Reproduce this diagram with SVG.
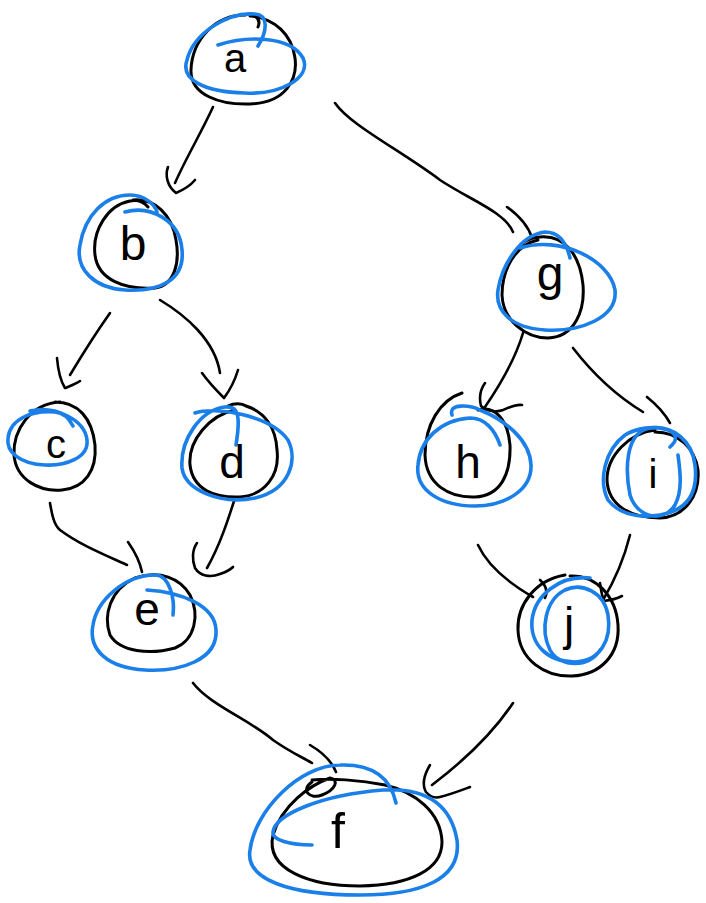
<svg xmlns="http://www.w3.org/2000/svg" width="706" height="903" viewBox="0 0 706 903">
  <style>
    .ink { fill: none; stroke: #000; stroke-width: 3; stroke-linecap: round; stroke-linejoin: round; }
    .hi { fill: none; stroke: #1a7fe8; stroke-width: 3.6; stroke-linecap: round; stroke-linejoin: round; }
    .lbl { font-family: "Liberation Sans", "DejaVu Sans", sans-serif; fill: #000; text-anchor: middle; font-weight: normal; }
    .edge { fill: none; stroke: #000; stroke-width: 2.6; stroke-linecap: round; stroke-linejoin: round; }
  </style>
  <rect width="706" height="903" fill="#fff"/>

  <!-- connectors -->
  <g id="connectors">
    <!-- a -> b -->
    <path class="edge" d="M213,107 C200,135 185,160 175,183"/>
    <path class="edge" d="M168,167 C165,175 167,186 176,193 C183,190 190,186 195,180"/>
    <!-- a -> g -->
    <path class="edge" d="M335,103 C350,125 400,150 440,180 C470,200 505,212 513,232"/>
    <path class="edge" d="M507,207 C518,215 528,225 532,238"/>
    <!-- b -> c -->
    <path class="edge" d="M110,313 C98,330 82,355 70,375"/>
    <path class="edge" d="M57,358 C58,370 60,380 65,388 C70,386 76,384 80,381"/>
    <!-- b -> d -->
    <path class="edge" d="M160,300 C185,315 215,340 220,373"/>
    <path class="edge" d="M202,373 C210,384 218,392 224,398 C230,390 235,380 238,370"/>
    <!-- g -> h -->
    <path class="edge" d="M523,333 C515,360 500,385 485,407"/>
    <path class="edge" d="M485,383 C480,390 479,398 481,406 C488,412 498,412 503,410 C510,407 516,404 522,405"/>
    <!-- g -> i -->
    <path class="edge" d="M573,348 C590,370 615,395 643,412"/>
    <path class="edge" d="M647,397 C657,405 665,414 670,423"/>
    <!-- c -> e -->
    <path class="edge" d="M50,503 C52,515 54,525 60,530 C80,545 105,555 127,565"/>
    <path class="edge" d="M128,542 C135,552 140,562 142,572"/>
    <!-- d -> e -->
    <path class="edge" d="M235,498 C228,520 220,545 207,568"/>
    <path class="edge" d="M197,543 C192,550 192,560 195,568 C200,576 210,578 220,574 C226,572 230,570 233,567"/>
    <!-- h -> j -->
    <path class="edge" d="M478,545 C485,560 500,578 533,597"/>
    <path class="edge" d="M540,580 C546,585 548,592 545,598"/>
    <!-- i -> j -->
    <path class="edge" d="M630,535 C625,555 615,580 603,600"/>
    <path class="edge" d="M600,583 C601,590 602,597 604,601 C612,600 618,598 622,596"/>
    <!-- e -> f -->
    <path class="edge" d="M193,683 C210,705 250,720 273,740 C290,752 300,756 312,763"/>
    <path class="edge" d="M310,745 C322,752 332,762 336,772"/>
    <!-- j -> f -->
    <path class="edge" d="M513,703 C495,730 465,760 432,785"/>
    <path class="edge" d="M430,765 C424,775 422,785 426,792 C430,797 436,798 440,797 C452,794 462,790 470,787"/>
  </g>

  <!-- node a -->
  <g id="node-a">
    <path class="ink" d="M258,27 C262,18 252,12 245,15 C215,15 192,40 191,70 C190,95 220,105 250,104 C285,103 298,80 295,58 C292,35 275,18 250,16"/>
    <path class="hi" d="M218,45 C245,36 290,35 303,58 C312,78 280,95 245,93 C205,92 180,80 187,60 C193,35 225,12 255,14 C268,15 268,30 258,46"/>
    <text class="lbl" x="235" y="72" font-size="40">a</text>
  </g>

  <!-- node b -->
  <g id="node-b">
    <path class="ink" d="M148,207 C142,200 135,200 130,201 C108,205 92,230 95,255 C98,280 125,290 155,288 C175,285 180,262 176,240 C172,215 155,198 133,200"/>
    <path class="hi" d="M125,212 C150,205 180,220 182,250 C185,280 160,292 125,290 C95,288 75,270 80,245 C85,215 105,195 130,195 C145,195 155,205 157,212"/>
    <text class="lbl" x="133" y="260" font-size="48">b</text>
  </g>

  <!-- node g -->
  <g id="node-g">
    <path class="ink" d="M538,240 C515,245 502,270 502,295 C503,320 525,338 548,338 C575,337 585,310 583,285 C580,255 565,235 540,237 C525,238 520,245 517,250"/>
    <path class="hi" d="M520,248 C560,235 610,260 615,290 C618,318 580,332 545,330 C510,328 495,310 498,290 C502,265 520,235 545,232 C560,232 567,245 570,258"/>
    <text class="lbl" x="550" y="290" font-size="48">g</text>
  </g>

  <!-- node c -->
  <g id="node-c">
    <path class="ink" d="M60,402 C30,404 13,430 14,455 C16,480 40,492 62,490 C85,488 97,470 95,445 C92,418 78,402 55,402"/>
    <path class="hi" d="M30,411 C55,405 85,420 87,440 C89,458 65,466 45,465 C20,464 6,452 8,438 C10,420 30,410 55,412 C65,413 70,420 73,426"/>
    <text class="lbl" x="56" y="458" font-size="40">c</text>
  </g>

  <!-- node d -->
  <g id="node-d">
    <path class="ink" d="M228,406 C234,403 242,403 246,406 C265,412 276,428 277,450 C280,475 265,495 240,497 C215,498 193,490 190,465 C188,440 210,415 235,410"/>
    <path class="hi" d="M195,413 C215,406 270,415 288,440 C298,460 290,490 255,498 C220,505 185,490 182,468 C180,440 200,410 225,407 C240,405 240,420 236,445"/>
    <text class="lbl" x="232" y="478" font-size="46">d</text>
  </g>

  <!-- node h -->
  <g id="node-h">
    <path class="ink" d="M462,393 C440,400 425,425 425,455 C426,485 450,498 475,497 C500,496 511,475 510,445 C508,420 495,405 478,410"/>
    <path class="hi" d="M452,415 C448,403 470,405 480,410 C505,420 530,440 531,465 C532,490 505,506 475,506 C440,506 415,490 418,465 C420,440 440,420 470,418 C485,418 495,430 500,445"/>
    <text class="lbl" x="468" y="478" font-size="46">h</text>
  </g>

  <!-- node i -->
  <g id="node-i">
    <path class="ink" d="M655,430 C630,433 607,455 607,480 C608,505 630,518 660,518 C685,517 700,495 698,470 C695,448 678,432 655,432"/>
    <path class="hi" d="M670,447 C690,430 650,420 625,435 C605,450 598,480 608,500 C620,515 640,518 660,515 C690,510 698,490 695,465 C692,440 672,425 650,428 C625,432 625,470 630,495 C638,520 665,522 675,505 C683,490 680,470 678,455"/>
    <text class="lbl" x="653" y="488" font-size="40">i</text>
  </g>

  <!-- node e -->
  <g id="node-e">
    <path class="ink" d="M135,578 C110,590 103,615 110,635 C120,652 150,655 175,648 C195,640 200,615 190,595 C180,578 160,570 135,578"/>
    <path class="hi" d="M147,590 C180,592 215,605 216,630 C218,660 180,672 145,670 C108,668 88,650 93,625 C97,600 125,575 155,575 C170,575 175,600 173,615"/>
    <text class="lbl" x="147" y="625" font-size="46">e</text>
  </g>

  <!-- node j -->
  <g id="node-j">
    <path class="ink" d="M565,575 C535,580 517,605 518,630 C519,660 545,677 572,676 C600,675 620,655 618,625 C616,595 595,575 570,576"/>
    <path class="hi" d="M590,578 C560,575 535,595 532,620 C530,645 548,662 575,662 C600,661 612,640 608,615 C604,592 582,582 565,590 C545,600 540,630 550,650 C560,668 590,668 600,650"/>
    <text class="lbl" x="569" y="640" font-size="46">j</text>
  </g>

  <!-- node f -->
  <g id="node-f">
    <path class="ink" d="M312,782 C300,790 310,800 322,795 C335,790 340,780 330,778 C310,785 282,805 273,835 C265,870 310,886 360,886 C410,885 442,870 442,842 C441,812 415,792 385,785 C360,780 330,778 312,780"/>
    <path class="hi" d="M312,845 C290,845 272,840 273,832 C275,815 320,795 383,790 C420,788 450,800 457,840 C462,880 420,895 360,895 C290,895 245,880 250,850 C255,810 300,765 340,765 C370,764 390,775 396,803"/>
    <text class="lbl" x="338" y="848" font-size="50">f</text>
  </g>
</svg>
